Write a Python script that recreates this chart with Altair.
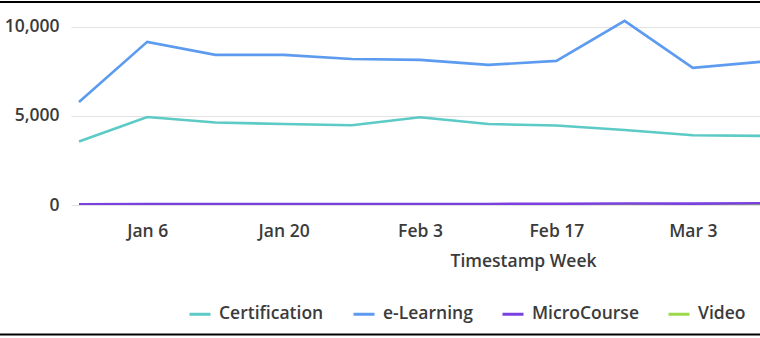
import altair as alt
import pandas as pd

weeks = ["2024-12-30", "2025-01-06", "2025-01-13", "2025-01-20", "2025-01-27",
         "2025-02-03", "2025-02-10", "2025-02-17", "2025-02-24", "2025-03-03", "2025-03-10"]
certification = [3560, 4940, 4630, 4550, 4480, 4930, 4550, 4460, 4210, 3920, 3880]
elearning = [5780, 9160, 8430, 8430, 8200, 8150, 7870, 8090, 10340, 7700, 8040]
microcourse = [45, 55, 60, 60, 55, 55, 60, 70, 85, 80, 95]
video = [5, 5, 5, 5, 5, 5, 5, 5, 5, 5, 5]

series_names = ["Certification", "e-Learning", "MicroCourse", "Video"]
series_colors = ["#5ccac5", "#5c9bef", "#7b40e0", "#9bd84a"]
tick_dates = [(2025, 1, 6), (2025, 1, 20), (2025, 2, 3), (2025, 2, 17), (2025, 3, 3)]

rows = []
for name, vals in [("Video", video), ("Certification", certification),
                   ("e-Learning", elearning), ("MicroCourse", microcourse)]:
    for w, v in zip(weeks, vals):
        rows.append({"week": w, "series": name, "value": v})
df = pd.DataFrame(rows)

FONT = "Open Sans"
TXT = "#3b3b3b"
FS = 17.5

lines = alt.Chart(df).mark_line(strokeWidth=2.6, clip=True).encode(
    x=alt.X(
        "week:T",
        scale=alt.Scale(
            type="utc",
            domain=[alt.DateTime(year=2024, month=12, date=29, hours=4, minutes=18, utc=True),
                    alt.DateTime(year=2025, month=3, date=9, hours=21, minutes=30, utc=True)],
            nice=False,
        ),
        axis=alt.Axis(
            values=[alt.DateTime(year=y, month=m, date=d, utc=True) for y, m, d in tick_dates],
            format="%b %-d",
            grid=False, ticks=False, domain=False,
            labelPadding=17, labelFontSize=FS, labelFont=FONT, labelFontWeight=600,
            labelColor=TXT,
            title="Timestamp Week", titleFont=FONT, titleFontSize=FS, titleFontWeight=600,
            titleColor=TXT, titleX=452, titleY=56, titleBaseline="middle", titleAlign="center",
        ),
    ),
    y=alt.Y(
        "value:Q",
        scale=alt.Scale(domain=[0, 10500], nice=False),
        axis=alt.Axis(
            values=[0, 5000, 10000], format=",.0f", ticks=False, domain=False,
            gridColor="#e2e2e2", gridWidth=1, labelPadding=12,
            labelFontSize=FS, labelFont=FONT, labelFontWeight=600, labelColor=TXT,
            title=None,
        ),
    ),
    color=alt.Color(
        "series:N",
        scale=alt.Scale(domain=series_names, range=series_colors),
        legend=alt.Legend(
            title=None, orient="none", legendX=117, legendY=284, direction="horizontal",
            symbolType="stroke", symbolSize=441, symbolStrokeWidth=3,
            labelFont=FONT, labelFontSize=FS, labelFontWeight=600, labelColor=TXT,
            labelOffset=7, columnPadding=23, padding=0,
        ),
    ),
    detail="series:N",
)

border_df = pd.DataFrame({"k": [0]})
top_border = alt.Chart(border_df).mark_rule(color="#000000", strokeWidth=2, clip=False).encode(
    x=alt.value(-71), x2=alt.value(689), y=alt.value(-16)
)
bottom_border = alt.Chart(border_df).mark_rule(color="#000000", strokeWidth=2, clip=False).encode(
    x=alt.value(-71), x2=alt.value(689), y=alt.value(316.5)
)

chart = alt.layer(lines, top_border, bottom_border).properties(
    width=689, height=187, autosize="none",
    padding={"left": 71, "top": 18, "right": 0, "bottom": 133},
    background="white",
).configure_view(stroke=None)

chart.save("out.html", embed_options={"renderer": "svg", "actions": False})
